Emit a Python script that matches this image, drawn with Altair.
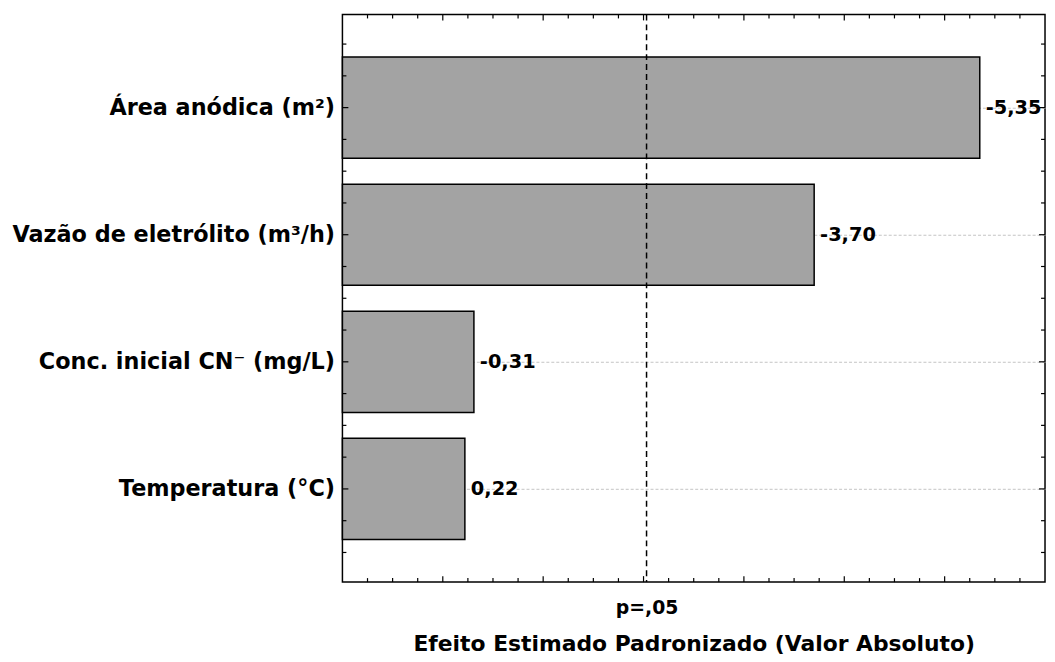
import json
import numpy as np
import pandas as pd
import altair as alt

# ---------------- data ----------------
factors = [
    "Área anódica (m²)",
    "Vazão de eletrólito (m³/h)",
    "Conc. inicial CN⁻ (mg/L)",
    "Temperatura (°C)",
]
effects = [-5.35, -3.70, -0.31, 0.22]
p_crit = 2.03
p_label = "p=,05"
x_title = "Efeito Estimado Padronizado (Valor Absoluto)"

x_min, x_max = -1.0, 6.0
x_major = [0, 1, 2, 3, 4, 5]
x_minor = [v for v in np.arange(-0.75, 6.0, 0.25).round(2).tolist() if v not in x_major]
y_major = [1, 2, 3, 4]
y_minor = [v for v in np.arange(0.5, 4.75, 0.25).round(2).tolist() if v not in y_major]

W, H = 708, 572
FONT = "DejaVu Sans"

df = pd.DataFrame({
    "factor": factors,
    "effect": effects,
    "pos": list(range(1, len(factors) + 1)),
    "label": [f"{v:.2f}".replace(".", ",") for v in effects],
})

xs = alt.Scale(domain=[x_min, x_max], nice=False, zero=False)
ys = alt.Scale(domain=[0.267, 4.733], reverse=True, nice=False, zero=False)

label_expr = json.dumps([""] + factors) + "[datum.value]"

x_axis = alt.Axis(
    values=[p_crit], labelExpr=f"'{p_label}'", ticks=False, domain=False, grid=False,
    labelFont=FONT, labelFontWeight="bold", labelFontSize=19, labelColor="black",
    labelPadding=17, title=x_title, titleFont=FONT, titleFontWeight="bold",
    titleFontSize=22, titleColor="black", titlePadding=16)
y_axis = alt.Axis(
    values=y_major, labelExpr=label_expr, title=None, ticks=False, domain=False,
    grid=True, gridDash=[3, 2], gridColor="#c4c4c4", gridWidth=1,
    labelFont=FONT, labelFontWeight="bold", labelFontSize=22.5, labelColor="black",
    labelPadding=8, labelLimit=500)

base = alt.Chart(df).transform_calculate(
    absv="abs(datum.effect)",
    base=str(x_min),
    y0="datum.pos - 0.398",
    y1="datum.pos + 0.398",
)

bars = base.mark_bar(fill="#a3a3a3", stroke="black", strokeWidth=1.5).encode(
    x=alt.X("base:Q", scale=xs, axis=x_axis),
    x2="absv:Q",
    y=alt.Y("y0:Q", scale=ys, axis=y_axis),
    y2="y1:Q",
)

labels = base.mark_text(align="left", baseline="middle", dx=6, font=FONT,
                        fontWeight="bold", fontSize=19.5, color="black").encode(
    x=alt.X("absv:Q", scale=xs, axis=x_axis),
    y=alt.Y("pos:Q", scale=ys, axis=y_axis),
    text="label:N",
)

pline = alt.Chart(pd.DataFrame({"p": [p_crit]})).mark_rule(
    color="black", strokeDash=[6, 4], strokeWidth=1.5).encode(
    x=alt.X("p:Q", scale=xs, axis=x_axis))


def xticks(vals, length, top):
    y0 = 0 if top else H
    y1 = length if top else H - length
    return alt.Chart(pd.DataFrame({"v": vals})).mark_rule(color="black", strokeWidth=1.2).encode(
        x=alt.X("v:Q", scale=xs, axis=x_axis), y=alt.value(y0), y2=alt.value(y1))


def yticks(vals, length, left):
    x0 = 0 if left else W
    x1 = length if left else W - length
    return alt.Chart(pd.DataFrame({"v": vals})).mark_rule(color="black", strokeWidth=1.2).encode(
        y=alt.Y("v:Q", scale=ys, axis=y_axis), x=alt.value(x0), x2=alt.value(x1))


ticks = [
    xticks(x_minor, 4, True), xticks(x_major, 6, True),
    xticks(x_minor, 4, False), xticks(x_major, 6, False),
    yticks(y_minor, 4, True), yticks(y_major, 6, True),
    yticks(y_minor, 4, False), yticks(y_major, 6, False),
]

chart = alt.layer(bars, pline, labels, *ticks).properties(
    width=W, height=H,
    padding={"left": 337, "top": 4, "right": 2, "bottom": 75},
    autosize=alt.AutoSizeParams(type="none"),
    background="white",
).configure_view(stroke="black", strokeWidth=1.5)

chart.save("out.html", embed_options={"renderer": "svg", "actions": False})
